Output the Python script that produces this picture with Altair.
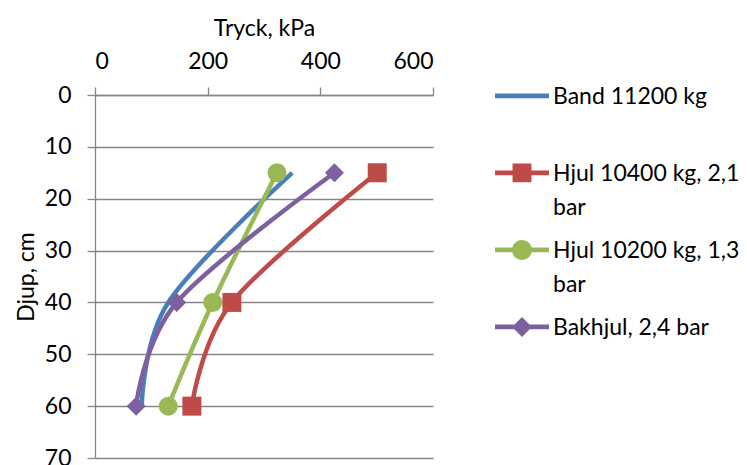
import altair as alt
import pandas as pd

# ---- data ----
series_names = ["Band 11200 kg", "Hjul 10400 kg, 2,1 bar", "Hjul 10200 kg, 1,3 bar", "Bakhjul, 2,4 bar"]
depth_cm = [15, 40, 60]
band_kpa = [350, 130, 83]
hjul10400_kpa = [501, 243, 172]
hjul10200_kpa = [323, 209, 130]
bakhjul_kpa = [425, 145, 73]
x_ticks = [0, 200, 400, 600]
y_ticks = [0, 10, 20, 30, 40, 50, 60, 70]
colors = ["#4A7EBB", "#BE4B48", "#98B954", "#7D60A0"]
marker_shapes = ["circle", "square", "circle", "diamond"]

values = [band_kpa, hjul10400_kpa, hjul10200_kpa, bakhjul_kpa]
rows = []
for name, vals in zip(series_names, values):
    for d, v in zip(depth_cm, vals):
        rows.append({"series": name, "depth": d, "pressure": v})
df = pd.DataFrame(rows)

# ---- legend symbols: line + marker as custom SVG paths (unit coords) ----
DY = -0.3
def line_part():
    h = 0.085
    return f"M-1,{-h + DY}H1V{h + DY}H-1Z"
def square_part(m=0.35):
    return f"M-{m},{-m + DY}H{m}V{m + DY}H-{m}Z"
def circle_part(r=0.37):
    return f"M{r},{DY}A{r},{r} 0 1 1 {-r},{DY}A{r},{r} 0 1 1 {r},{DY}Z"
def diamond_part(d=0.37):
    return f"M0,{-d + DY}L{d},{DY}L0,{d + DY}L{-d},{DY}Z"

legend_paths = [
    line_part(),
    line_part() + square_part(),
    line_part() + circle_part(),
    line_part() + diamond_part(),
]

FONT = "Lato"
GRAY = "#868686"
FS = 23

x_enc = alt.X(
    "pressure:Q",
    scale=alt.Scale(domain=[0, 600], nice=False, zero=True),
    axis=alt.Axis(
        orient="top", values=x_ticks, title="Tryck, kPa", grid=False,
        labelFont=FONT, labelFontSize=FS, labelColor="black", labelPadding=14,
        titleFont=FONT, titleFontSize=FS, titleFontWeight="normal", titleColor="black",
        titlePadding=10, tickColor=GRAY, tickSize=8, tickWidth=1.3,
        domainColor=GRAY, domainWidth=1.3,
    ),
)
y_enc = alt.Y(
    "depth:Q",
    scale=alt.Scale(domain=[0, 70], nice=False, reverse=True),
    axis=alt.Axis(
        values=y_ticks, title="Djup, cm", grid=True, gridColor=GRAY, gridWidth=1.3,
        labelFont=FONT, labelFontSize=FS, labelColor="black", labelPadding=16,
        titleFont=FONT, titleFontSize=FS, titleFontWeight="normal", titleColor="black",
        titlePadding=6, tickColor=GRAY, tickSize=8, tickWidth=1.3,
        domainColor=GRAY, domainWidth=1.3,
    ),
)

color_plain = alt.Color("series:N", scale=alt.Scale(domain=series_names, range=colors), legend=None)

lines = alt.Chart(df).mark_line(interpolate="cardinal", strokeWidth=4.5).encode(
    x=x_enc,
    y=y_enc,
    color=color_plain,
    detail="series:N",
    order=alt.Order("depth:Q"),
)

points = alt.Chart(df).transform_filter(
    alt.datum.series != series_names[0]
).mark_point(filled=True, size=361, opacity=1).encode(
    x=x_enc,
    y=y_enc,
    color=color_plain,
    shape=alt.Shape("series:N", scale=alt.Scale(domain=series_names, range=marker_shapes), legend=None),
)

legend_def = alt.Legend(
    title=None, orient="none", legendX=400, legendY=-18, padding=0,
    symbolSize=2916, symbolStrokeWidth=0, symbolOpacity=1,
    labelFont=FONT, labelFontSize=FS, labelColor="black", labelLimit=400,
    labelOffset=4, labelBaseline="alphabetic", rowPadding=11,
    labelExpr="indexof(datum.label, 'Hjul') == 0 ? [replace(datum.label, ' bar', ''), 'bar'] : [datum.label, '']",
)

legend_layer = alt.Chart(df).transform_filter("false").mark_point(filled=True, size=2916, opacity=1).encode(
    color=alt.Color("series:N", scale=alt.Scale(domain=series_names, range=colors), legend=legend_def),
    shape=alt.Shape("series:N", scale=alt.Scale(domain=series_names, range=legend_paths), legend=legend_def),
)

chart = alt.layer(lines, points, legend_layer).resolve_scale(
    color="independent", shape="independent"
).properties(
    width=338, height=363,
    padding={"left": 95, "top": 95, "right": 314, "bottom": 7},
    autosize=alt.AutoSizeParams(type="none"),
    background="white",
).configure(
    font=FONT,
    style={"guide-label": {"lineHeight": 34}},
).configure_view(stroke=None)

chart.save("out.html", embed_options={"renderer": "svg", "actions": False})
